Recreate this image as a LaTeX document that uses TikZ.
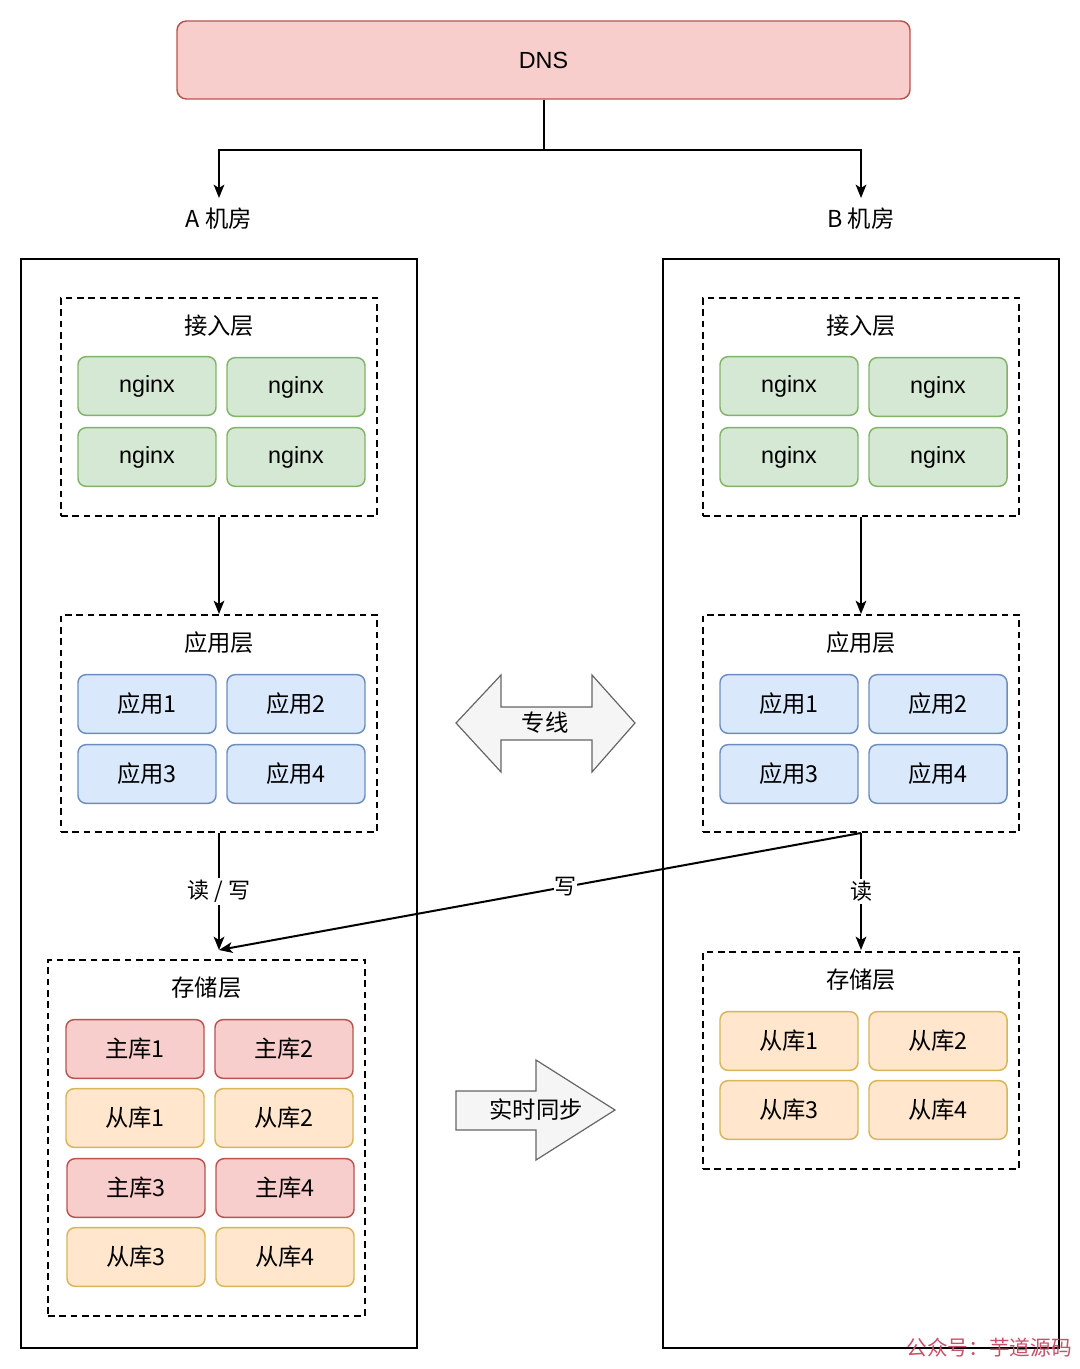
\documentclass[tikz,border=0pt]{standalone}
\usepackage{fontspec}
\setmainfont{Liberation Sans}
\newfontfamily\cjk{Noto Sans CJK SC}
\usetikzlibrary{arrows.meta}
\definecolor{gfill}{HTML}{D5E8D4}\definecolor{gline}{HTML}{82B366}
\definecolor{bfill}{HTML}{DAE8FC}\definecolor{bline}{HTML}{6C8EBF}
\definecolor{rfill}{HTML}{F8CECC}\definecolor{rline}{HTML}{B85450}
\definecolor{yfill}{HTML}{FFE6CC}\definecolor{yline}{HTML}{D6B656}
\definecolor{afill}{HTML}{F5F5F5}\definecolor{aline}{HTML}{666666}
\definecolor{wm}{HTML}{C8506A}
\begin{document}
\begin{tikzpicture}[x=0.75pt,y=-0.75pt,
  cell/.style={draw,rounded corners=6pt,line width=1.1pt,minimum width=103.5pt,minimum height=44pt,inner sep=0pt,font=\fontsize{17.5}{20}\selectfont},
  gbox/.style={cell,fill=gfill,draw=gline},
  bbox/.style={cell,fill=bfill,draw=bline,font=\cjk\fontsize{17.5}{20}\selectfont},
  rbox/.style={cell,fill=rfill,draw=rline,font=\cjk\fontsize{17.5}{20}\selectfont},
  ybox/.style={cell,fill=yfill,draw=yline,font=\cjk\fontsize{17.5}{20}\selectfont},
  layer/.style={draw,line width=1.2pt,dash pattern=on 5pt off 3.5pt,minimum width=237pt,inner sep=0pt},
  room/.style={draw,line width=1.4pt,minimum width=297pt,minimum height=816.75pt,inner sep=0pt},
  title/.style={font=\cjk\fontsize{17.5}{20}\selectfont,inner sep=1pt},
  conn/.style={line width=1.5pt,-{Stealth[length=10pt,width=8pt,inset=2.5pt]}},
  blk/.style={fill=afill,draw=aline,line width=0.9pt,line join=miter},
  lbl/.style={font=\cjk\fontsize{16.5}{19}\selectfont,fill=white,inner sep=1.5pt}]
\useasboundingbox (0,0) rectangle (1080,1369);
% DNS
\node[draw=rline,fill=rfill,rounded corners=7pt,line width=1.1pt,minimum width=549.75pt,minimum height=58.5pt,font=\fontsize{17.5}{20}\selectfont] (dns) at (543.5,60) {DNS};
\node[title] (la) at (219,219) {A 机房};
\node[title] (lb) at (861,219) {B 机房};
\coordinate (ta) at (219,198);
\coordinate (tb) at (861,198);
\draw[conn] (dns.south) -- ++(0,50) -| (ta);
\draw[conn] (dns.south) -- ++(0,50) -| (tb);
% rooms
\node[room] (roomA) at (219,803.5) {};
\node[room] (roomB) at (861,803.5) {};
% A access
\node[layer,minimum height=163.5pt] (accA) at (219,407) {};
\node[title] (accAt) at (219,326) {接入层};
\node[gbox] (nA1) at (147,386) {nginx};
\node[gbox] (nA2) at (296,387) {nginx};
\node[gbox] (nA3) at (147,457) {nginx};
\node[gbox] (nA4) at (296,457) {nginx};
% A app
\node[layer,minimum height=163pt] (appA) at (219,723.5) {};
\node[title] (appAt) at (219,643) {应用层};
\node[bbox] (pA1) at (147,704) {应用1};
\node[bbox] (pA2) at (296,704) {应用2};
\node[bbox] (pA3) at (147,774) {应用3};
\node[bbox] (pA4) at (296,774) {应用4};
% A storage
\node[layer,minimum height=267pt,minimum width=237.75pt] (stA) at (206.5,1138) {};
\node[title] (stAt) at (206.5,988) {存储层};
\node[rbox] (sA1) at (135,1049) {主库1};
\node[rbox] (sA2) at (284,1049) {主库2};
\node[ybox] (sA3) at (135,1118) {从库1};
\node[ybox] (sA4) at (284,1118) {从库2};
\node[rbox] (sA5) at (136,1188) {主库3};
\node[rbox] (sA6) at (285,1188) {主库4};
\node[ybox] (sA7) at (136,1257) {从库3};
\node[ybox] (sA8) at (285,1257) {从库4};
% B access
\node[layer,minimum height=163.5pt] (accB) at (861,407) {};
\node[title] (accBt) at (861,326) {接入层};
\node[gbox] (nB1) at (789,386) {nginx};
\node[gbox] (nB2) at (938,387) {nginx};
\node[gbox] (nB3) at (789,457) {nginx};
\node[gbox] (nB4) at (938,457) {nginx};
% B app
\node[layer,minimum height=163pt] (appB) at (861,723.5) {};
\node[title] (appBt) at (861,643) {应用层};
\node[bbox] (pB1) at (789,704) {应用1};
\node[bbox] (pB2) at (938,704) {应用2};
\node[bbox] (pB3) at (789,774) {应用3};
\node[bbox] (pB4) at (938,774) {应用4};
% B storage
\node[layer,minimum height=162.75pt] (stB) at (861,1060.5) {};
\node[title] (stBt) at (861,980) {存储层};
\node[ybox] (sB1) at (789,1041) {从库1};
\node[ybox] (sB2) at (938,1041) {从库2};
\node[ybox] (sB3) at (789,1110) {从库3};
\node[ybox] (sB4) at (938,1110) {从库4};
% connectors
\draw[conn] (accA.south) -- (appA.north);
\draw[conn] (accB.south) -- (appB.north);
\coordinate (wA) at (219,950);
\coordinate (wB) at (861,950);
\draw[conn] (appA.south) -- node[lbl,pos=0.5] {读 / 写} (wA);
\draw[conn] (appB.south) -- node[lbl,pos=0.5] {读} (wB);
\draw[conn] (appB.south) -- node[lbl,pos=0.46,inner sep=0.5pt] {写} (wA);
% block arrows
\draw[blk] (456,723) -- (501,675) -- (501,707) -- (592,707) -- (592,675) -- (635,723) -- (592,772) -- (592,740) -- (501,740) -- (501,772) -- cycle;
\node[font=\cjk\fontsize{17.5}{20}\selectfont] (zx) at (545,723) {专线};
\draw[blk] (456,1091) -- (536,1091) -- (536,1060) -- (615,1110) -- (536,1160) -- (536,1130) -- (456,1130) -- cycle;
\node[font=\cjk\fontsize{17.5}{20}\selectfont] (ss) at (536,1110) {实时同步};
% watermark
\node[font=\cjk\fontsize{15.5}{18}\selectfont,text=wm,inner sep=0pt] (wmk) at (989,1348) {公众号：芋道源码};
\end{tikzpicture}
\end{document}
